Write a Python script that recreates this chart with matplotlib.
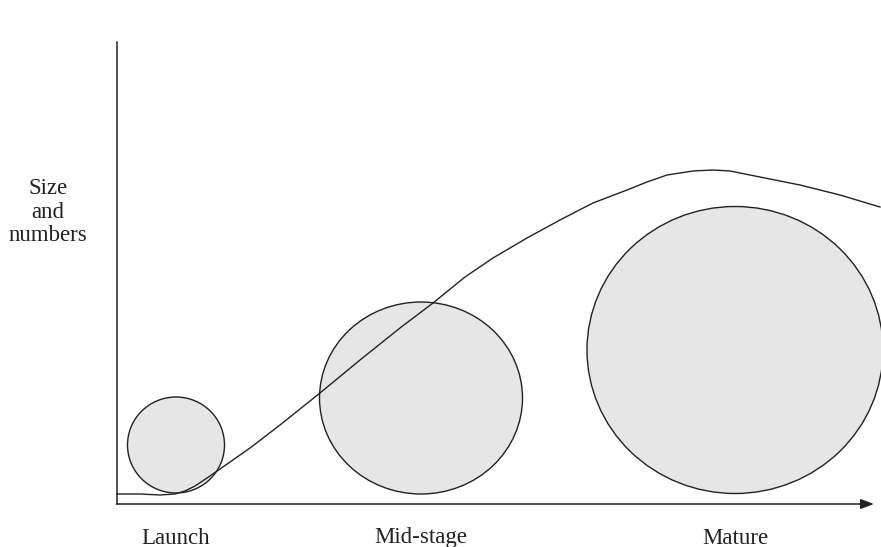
import matplotlib
matplotlib.use("Agg")
import matplotlib.pyplot as plt
from matplotlib.patches import Ellipse

# stages shown as circles (centre x, centre y, width, height) in axis units
stages = ["Launch", "Mid-stage", "Mature"]
stage_x = [59, 304, 618]
stage_y = [59, 106, 154]
stage_w = [97, 203, 296]
stage_h = [96, 192, 287]

# growth curve
curve_x = [0, 23, 43, 58, 68, 78, 93, 103, 133, 163, 203, 243, 283, 316, 348,
           376, 410, 443, 476, 510, 530, 550, 576, 596, 613, 633, 683, 723, 763]
curve_y = [10, 10, 9, 10, 13, 18, 28, 35, 56, 79, 111, 144, 176, 201, 227,
           246, 266, 284, 301, 314, 322, 329, 333, 334, 333, 329, 319, 309, 297]

y_label = "Size\nand\nnumbers"

plt.rcParams['font.family'] = ['Liberation Serif', 'DejaVu Serif']
ink = "#222222"

fig = plt.figure(figsize=(8.81, 5.47), dpi=100)
ax = fig.add_axes([0, 0, 1, 1])
ax.set_xlim(-117, 764)
ax.set_ylim(-43, 504)
ax.axis("off")

for x, y, w, h in zip(stage_x, stage_y, stage_w, stage_h):
    ax.add_patch(Ellipse((x, y), w, h, facecolor="#e6e6e6", edgecolor=ink, lw=1.0, zorder=1))

ax.plot(curve_x, curve_y, color=ink, lw=1.0, zorder=3, solid_joinstyle="round")

# axes
ax.plot([0, 0], [0, 462], color=ink, lw=1.1, zorder=2)
ax.annotate("", xy=(757, 0), xytext=(-0.5, 0),
            arrowprops=dict(arrowstyle="-|>,head_length=0.8,head_width=0.3",
                            lw=1.1, color=ink, shrinkA=0, shrinkB=0))

for x, name in zip(stage_x, stages):
    ax.text(x, -34, name, ha="center", va="center", fontsize=16.5, color=ink)

ax.text(-69, 292, y_label, ha="center", va="center", fontsize=16.5,
        color=ink, linespacing=1.15, multialignment="center")

fig.savefig("out.png", dpi=100)
